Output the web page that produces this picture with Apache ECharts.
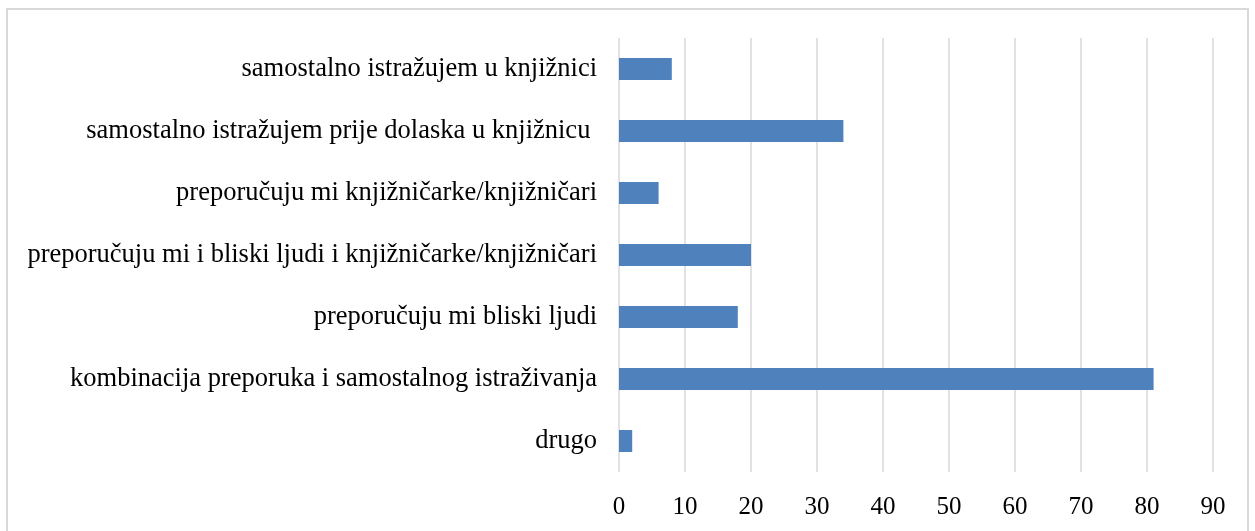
<!DOCTYPE html>
<html>
<head>
<meta charset="utf-8">
<script src="https://cdn.jsdelivr.net/npm/echarts@6/dist/echarts.min.js"></script>
<style>
  html, body { margin: 0; padding: 0; background: #fff; }
  #frame {
    position: absolute;
    left: 6px;
    top: 8px;
    width: 1239px;
    height: 540px;
    border: 2px solid #d9d9d9;
  }
  #chart { position: absolute; left: 0; top: 0; width: 1255px; height: 531px; }
</style>
</head>
<body>
<div id="frame"></div>
<div id="chart"></div>
<script>
// answers, top to bottom as drawn
const categories = [
  'samostalno istražujem u knjižnici',
  'samostalno istražujem prije dolaska u knjižnicu ',
  'preporučuju mi knjižničarke/knjižničari',
  'preporučuju mi i bliski ljudi i knjižničarke/knjižničari',
  'preporučuju mi bliski ljudi',
  'kombinacija preporuka i samostalnog istraživanja',
  'drugo'
];
const counts = [8, 34, 6, 20, 18, 81, 2];

const chart = echarts.init(document.getElementById('chart'));

chart.setOption({
  animation: false,
  grid: { left: 619, right: 42, top: 38, bottom: 59 },
  xAxis: {
    type: 'value',
    min: 0,
    max: 90,
    interval: 10,
    axisLine: { show: false },
    axisTick: { show: false },
    axisLabel: {
      color: '#000',
      fontFamily: 'Liberation Serif',
      fontSize: 25,
      margin: 23
    },
    splitLine: { lineStyle: { color: '#d9d9d9', width: 1.5 } }
  },
  yAxis: {
    type: 'category',
    inverse: true,
    data: categories,
    axisLine: { show: false },
    axisTick: { show: false },
    axisLabel: {
      color: '#000',
      fontFamily: 'Liberation Serif',
      fontSize: 26.5,
      margin: 22
    }
  },
  series: [
    {
      type: 'bar',
      data: counts,
      barWidth: 22,
      itemStyle: { color: '#4f81bd' }
    }
  ]
});
</script>
</body>
</html>
